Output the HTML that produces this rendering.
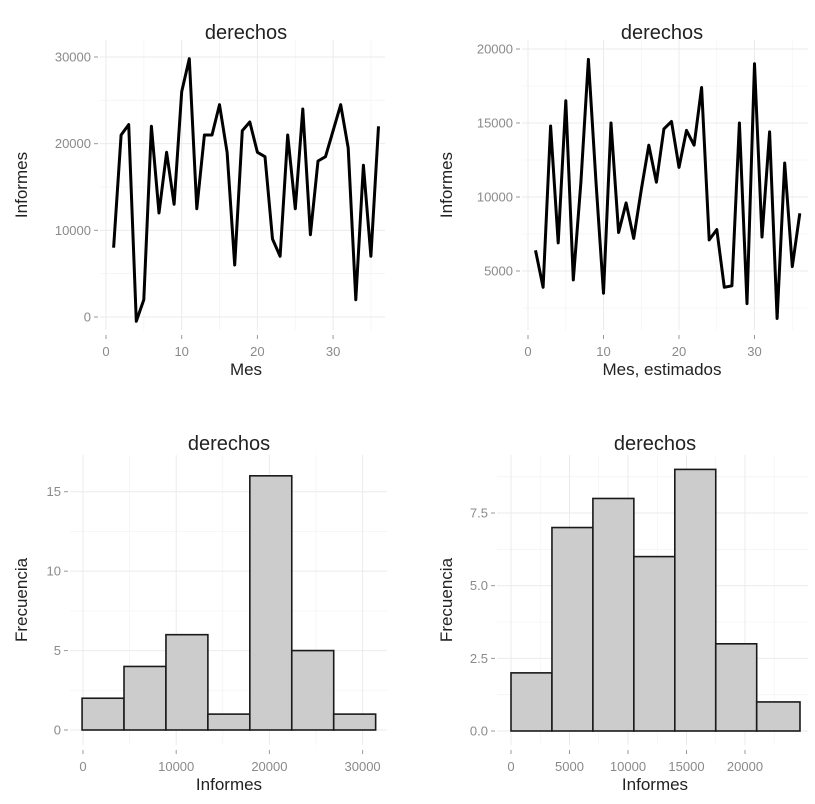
<!DOCTYPE html>
<html><head><meta charset="utf-8"><style>
body{margin:0;background:#fff;}
svg{display:block;font-family:"Liberation Sans",sans-serif;}
</style></head><body>
<svg id="c" width="815" height="804" viewBox="0 0 815 804"></svg>
<script>
const months = [1,2,3,4,5,6,7,8,9,10,11,12,13,14,15,16,17,18,19,20,21,22,23,24,25,26,27,28,29,30,31,32,33,34,35,36];
const reportsActual = [8000,21000,22200,-500,2000,22000,12000,19000,13000,26000,29800,12500,21000,21000,24500,19000,6000,21500,22500,19000,18500,9000,7000,21000,12500,24000,9500,18000,18500,21500,24500,19500,2000,17500,7000,22000];
const reportsEstimated = [6400,3900,14800,6900,16500,4400,11000,19300,11000,3500,15000,7600,9600,7200,10500,13500,11000,14600,15100,12000,14500,13500,17400,7100,7800,3900,4000,15000,2800,19000,7300,14400,1800,12300,5300,8900];
const histAEdges = [-100,4400,8900,13400,17900,22400,26900,31400];
const histACounts = [2,4,6,1,16,5,1];
const histBEdges = [0,3500,7000,10500,14000,17500,21000,24700];
const histBCounts = [2,7,8,6,9,3,1];
const tlXTicks=[0,10,20,30], tlYTicks=[0,10000,20000,30000];
const trXTicks=[0,10,20,30], trYTicks=[5000,10000,15000,20000];
const blXTicks=[0,10000,20000,30000], blYTicks=[0,5,10,15];
const brXTicks=[0,5000,10000,15000,20000], brYTicks=[0,2.5,5,7.5];

const svg=document.getElementById('c');
const NS='http://www.w3.org/2000/svg';
function mk(tag,attrs,parent){const e=document.createElementNS(NS,tag);for(const k in attrs)e.setAttribute(k,attrs[k]);(parent||svg).appendChild(e);return e;}
function lin(d0,d1,r0,r1){return v=>r0+(v-d0)*(r1-r0)/(d1-d0);}

function panel(p){
  const g=mk('g',{});
  
  
  const xs=p.xTicks, ys=p.yTicks;
  const fy=p.yfmt||(v=>String(v));
  const minor=(t)=>{const a=[];for(let i=0;i<t.length-1;i++)a.push((t[i]+t[i+1])/2);a.unshift(t[0]-(t[1]-t[0])/2);a.push(t[t.length-1]+(t[1]-t[0])/2);return a;};
  minor(xs).forEach(v=>{const x=p.sx(v);if(x>p.x0&&x<p.x1){const l=mk('line',{x1:x,x2:x,y1:p.y0,y2:p.y1,stroke:'#f4f4f4','stroke-width':0.8},g);}});
  minor(ys).forEach(v=>{const y=p.sy(v);if(y>p.y0&&y<p.y1){const l=mk('line',{x1:p.x0,x2:p.x1,y1:y,y2:y,stroke:'#f4f4f4','stroke-width':0.8},g);}});
  xs.forEach(v=>{const x=p.sx(v);const l=mk('line',{x1:x,x2:x,y1:p.y0,y2:p.y1,stroke:'#ebebeb','stroke-width':1},g);
    const tk=mk('line',{x1:x,x2:x,y1:p.y1+5,y2:p.y1+9,stroke:'#999','stroke-width':1},g);
    const t=mk('text',{x:x,y:p.y1+26,'text-anchor':'middle','font-size':13,fill:'#8a8a8a'},g);t.textContent=v;});
  ys.forEach(v=>{const y=p.sy(v);const l=mk('line',{x1:p.x0,x2:p.x1,y1:y,y2:y,stroke:'#ebebeb','stroke-width':1},g);
    const tk=mk('line',{x1:p.x0-6,x2:p.x0-2,y1:y,y2:y,stroke:'#999','stroke-width':1},g);
    const t=mk('text',{x:p.x0-9,y:y+4.5,'text-anchor':'end','font-size':13,fill:'#8a8a8a'},g);t.textContent=fy(v);});
  const tt=mk('text',{x:p.tx,y:p.ty,'text-anchor':'middle','font-size':20,fill:'#222'},g);tt.textContent='derechos';
  const xt=mk('text',{x:p.tx,y:p.y1+45,'text-anchor':'middle','font-size':17,fill:'#222'},g);xt.textContent=p.xlab;
  const yc=(p.y0+p.y1)/2;
  const yt=mk('text',{x:p.ylx,y:yc,'text-anchor':'middle','font-size':17,fill:'#222',transform:`rotate(-90 ${p.ylx} ${yc})`},g);yt.textContent=p.ylab;
  return g;
}
function linePanel(p,xsD,ysD){
  const g=panel(p);
  const d=xsD.map((v,i)=>(i?'L':'M')+p.sx(v).toFixed(1)+','+p.sy(ysD[i]).toFixed(1)).join('');
  const l=mk('path',{d:d,fill:'none',stroke:'#000','stroke-width':3,'stroke-linejoin':'round'},g);
  
  
}
function histPanel(p,edges,counts){
  const g=panel(p);
  counts.forEach((c,i)=>{
    const x0=p.sx(edges[i]),x1=p.sx(edges[i+1]),y=p.sy(c),yb=p.sy(0);
    const r=mk('rect',{x:x0,y:y,width:x1-x0,height:yb-y,fill:'#cccccc',stroke:'#1a1a1a','stroke-width':1.6},g);
    
    
  });
}
linePanel({name:'panel-actual-line',x0:100,x1:385,y0:40,y1:330,sx:lin(0,10,106,181.7),sy:lin(0,30000,317,57),xTicks:tlXTicks,yTicks:tlYTicks,tx:246,ty:39,xlab:'Mes',ylab:'Informes',ylx:27},months,reportsActual);
linePanel({name:'panel-estimated-line',x0:522,x1:808,y0:40,y1:330,sx:lin(0,10,528,603.5),sy:lin(5000,20000,271,49),xTicks:trXTicks,yTicks:trYTicks,tx:662,ty:39,xlab:'Mes, estimados',ylab:'Informes',ylx:452},months,reportsEstimated);
histPanel({name:'panel-actual-hist',x0:70,x1:387,y0:455,y1:745,sx:lin(0,10000,83,176.2),sy:lin(0,15,730,491.7),xTicks:blXTicks,yTicks:blYTicks,tx:229,ty:450,xlab:'Informes',ylab:'Frecuencia',ylx:27},histAEdges,histACounts);
histPanel({name:'panel-estimated-hist',x0:497,x1:808,y0:455,y1:745,sx:lin(0,20000,511,745),sy:lin(0,7.5,731,513),xTicks:brXTicks,yTicks:brYTicks,yfmt:v=>v.toFixed(1),tx:655,ty:450,xlab:'Informes',ylab:'Frecuencia',ylx:452},histBEdges,histBCounts);
</script>
</body></html>
